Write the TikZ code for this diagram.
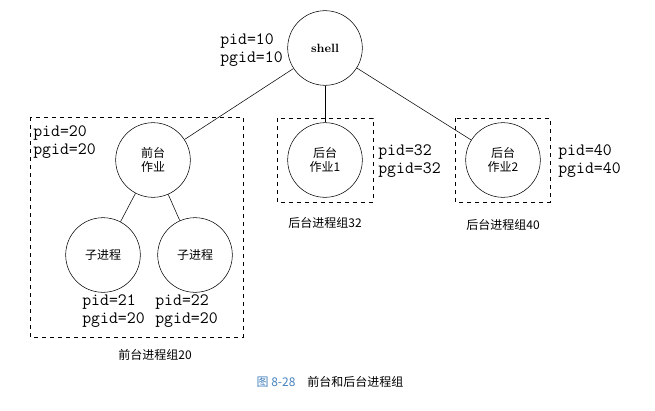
\documentclass[tikz,border=0pt]{standalone}
\usepackage{fontspec}
\newfontfamily\cjk{Noto Sans CJK SC}
\usetikzlibrary{positioning}
\definecolor{capblue}{RGB}{70,130,190}
\tikzstyle{proc}=[circle,draw,minimum size=56pt,inner sep=0pt,align=center,font=\cjk\small]
\tikzstyle{group}=[draw,dashed]
\tikzstyle{ids}=[font=\ttfamily\fontsize{13}{13}\selectfont,align=left,inner sep=0pt]
\tikzstyle{glabel}=[font=\cjk\small]
\begin{document}
\begin{tikzpicture}[x=0.75pt,y=-0.75pt]
\useasboundingbox (0,0) rectangle (655,410);
% processes
\node[proc,font=\bfseries\small] (shell) at (325,48) {shell};
\node[proc] (fg) at (153,160) {前台\\作业};
\node[proc] (bg1) at (325,160) {后台\\作业1};
\node[proc] (bg2) at (503,160) {后台\\作业2};
\node[proc] (c1) at (103,255) {子进程};
\node[proc] (c2) at (195,255) {子进程};
% groups
\draw[group] (30,117) rectangle (243,337);
\draw[group] (277,118) rectangle (373,202);
\draw[group] (455,118) rectangle (550,202);
\node[glabel] (fglab) at (155,355) {前台进程组20};
\node[glabel] (bg1lab) at (325,223) {后台进程组32};
\node[glabel] (bg2lab) at (503,225) {后台进程组40};
% ids
\node[ids,anchor=east] (shellid) at (283,50) {pid=10\\pgid=10};
\node[ids,anchor=west] (fgid) at (33,142) {pid=20\\pgid=20};
\node[ids,anchor=west] (c1id) at (82,311) {pid=21\\pgid=20};
\node[ids,anchor=west] (c2id) at (155,311) {pid=22\\pgid=20};
\node[ids,anchor=west] (bg1id) at (378,161) {pid=32\\pgid=32};
\node[ids,anchor=west] (bg2id) at (558,161) {pid=40\\pgid=40};
% edges
\foreach \a/\b in {shell/fg, shell/bg1, shell/bg2, fg/c1, fg/c2}
  \draw (\a) -- (\b);
% caption
\node[font=\cjk\small] (cap) at (330,382) {\textcolor{capblue}{图 8-28}\quad 前台和后台进程组};
\end{tikzpicture}
\end{document}
